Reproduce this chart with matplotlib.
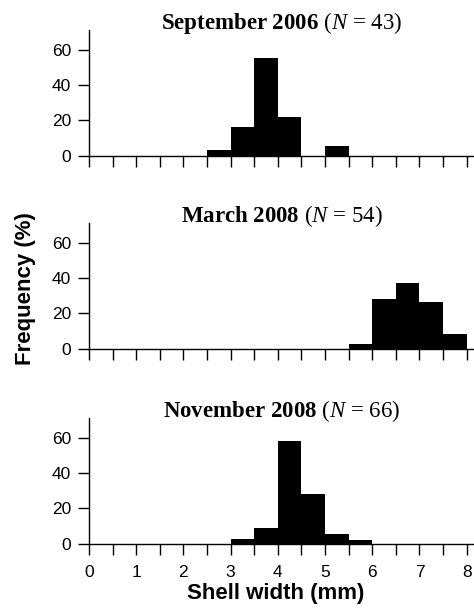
import numpy as np
import matplotlib
matplotlib.use("Agg")
import matplotlib.pyplot as plt

# Data: bin edges (mm) and frequencies (%) per sampling date
bin_edges = np.arange(0, 8.5, 0.5)
titles = ["September 2006", "March 2008", "November 2008"]
sample_sizes = [43, 54, 66]
freq_sep2006 = [0, 0, 0, 0, 0, 3.2, 16.4, 55.5, 21.8, 0, 5.5, 0, 0, 0, 0, 0]
freq_mar2008 = [0, 0, 0, 0, 0, 0, 0, 0, 0, 0, 0, 2.7, 28.3, 37.2, 26.4, 8.5]
freq_nov2008 = [0, 0, 0, 0, 0, 0, 2.8, 8.7, 58.1, 28.3, 5.3, 2.3, 0, 0, 0, 0]
y_ticks = [0, 20, 40, 60]
x_ticks_major = [0, 1, 2, 3, 4, 5, 6, 7, 8]

plt.rcParams['mathtext.fontset'] = 'custom'
plt.rcParams['mathtext.rm'] = 'Liberation Serif'
plt.rcParams['mathtext.it'] = 'Liberation Serif:italic'
plt.rcParams['mathtext.bf'] = 'Liberation Serif:bold'
plt.rcParams['font.family'] = ['Liberation Sans', 'DejaVu Sans']

fig = plt.figure(figsize=(4.74, 6.14), dpi=100)

series = [freq_sep2006, freq_mar2008, freq_nov2008]
bottoms = [0.7464, 0.4321, 0.1145]
height = 0.2044
left = 89 / 474
width = (474 - 89) / 474

for i, (freqs, b) in enumerate(zip(series, bottoms)):
    ax = fig.add_axes([left, b, width, height])
    ax.bar(bin_edges[:-1], freqs, width=0.5, align='edge', color='black',
           edgecolor='black', linewidth=0)
    ax.set_xlim(0, 8.155)
    ax.set_ylim(0, 71)
    ax.spines['top'].set_visible(False)
    ax.spines['right'].set_visible(False)
    for s in ['left', 'bottom']:
        ax.spines[s].set_linewidth(1.0)
    ax.set_yticks(y_ticks)
    ax.set_xticks(np.arange(0, 8.5, 0.5))
    ax.tick_params(axis='both', direction='out', length=8, width=1.0,
                   labelsize=12.5, pad=5)
    if i == 2:
        ax.set_xticks(x_ticks_major)
        ax.set_xticks(np.arange(0.5, 8, 1.0), minor=True)
        ax.tick_params(axis='x', which='minor', direction='out', length=8, width=1.0)
        ax.tick_params(axis='x', which='major', pad=7)
        ax.set_xticklabels([str(v) for v in x_ticks_major])
    else:
        ax.set_xticklabels([])
    label = titles[i].replace(' ', r'\ ')
    ax.set_title(r'$\mathbf{' + label + r'}$ ($N$ = ' + str(sample_sizes[i]) + ')',
                 fontsize=16.5, y=1.0, pad=0.7, family='Liberation Serif')

fig.text(26 / 474, 1 - 289 / 614, 'Frequency (%)', rotation=90, ha='center',
         va='center', fontsize=16, fontweight='bold')
fig.text(276 / 474, 1 - 594 / 614, 'Shell width (mm)', ha='center', va='center',
         fontsize=16, fontweight='bold')

fig.savefig('out.png', dpi=100)
